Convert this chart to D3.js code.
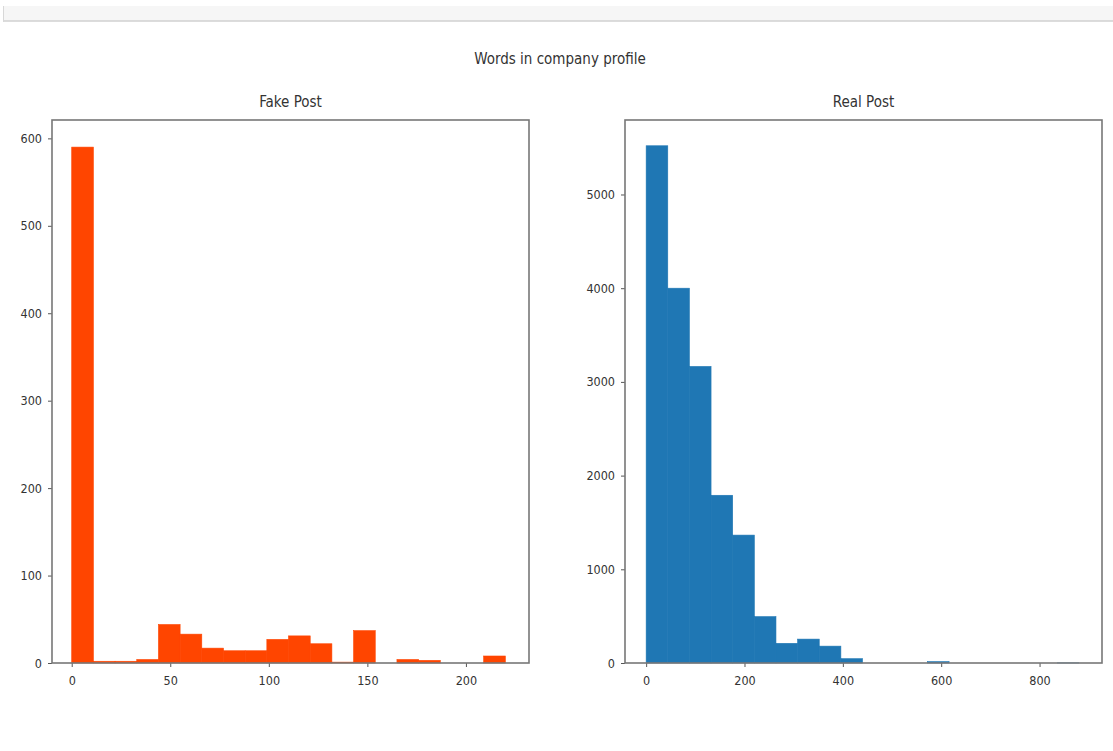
<!DOCTYPE html>
<html>
<head>
<meta charset="utf-8">
<script src="https://cdn.jsdelivr.net/npm/d3@7"></script>
<style>
  html, body { margin: 0; padding: 0; background: #fff; }
  svg { display: block; }
  text { font-family: "DejaVu Sans Condensed", "DejaVu Sans", sans-serif; fill: #333; }
</style>
</head>
<body>
<svg id="chart" width="1113" height="751"></svg>
<script>
// ---- data ----
const suptitle = "Words in company profile";
const fakeTitle = "Fake Post";
const realTitle = "Real Post";

const fakeBinStarts = [0, 11, 22, 33, 44, 55, 66, 77, 88, 99, 110, 121, 132, 143, 154, 165, 176, 187, 198, 209];
const fakeBinWidth = 11;
const fakeCounts = [590, 2, 2, 4, 44, 33, 17, 14, 14, 27, 31, 22, 1, 37, 0, 4, 3, 0, 0, 8];

const realBinStarts = [0, 44, 88, 132, 176, 220, 264, 308, 352, 396, 440, 484, 528, 572, 616, 660, 704, 748, 792, 836];
const realBinWidth = 44;
const realCounts = [5520, 4000, 3165, 1790, 1365, 495, 210, 255, 180, 46, 0, 0, 0, 15, 0, 0, 0, 0, 0, 1];

const fakeXTicks = [0, 50, 100, 150, 200];
const fakeYTicks = [0, 100, 200, 300, 400, 500, 600];
const realXTicks = [0, 200, 400, 600, 800];
const realYTicks = [0, 1000, 2000, 3000, 4000, 5000];

// ---- drawing ----
const svg = d3.select("#chart");

// notebook-like top strip
svg.append("rect").attr("x", 3).attr("y", 6).attr("width", 1110).attr("height", 15)
  .attr("fill", "#f6f6f6").attr("stroke", "none");
svg.append("line").attr("x1", 3).attr("x2", 1113).attr("y1", 21).attr("y2", 21)
  .attr("stroke", "#d0d0d0").attr("stroke-width", 1.5);
svg.append("line").attr("x1", 3.5).attr("x2", 3.5).attr("y1", 6).attr("y2", 22)
  .attr("stroke", "#d8d8d8").attr("stroke-width", 1);

svg.append("text").attr("x", 560).attr("y", 64).attr("text-anchor", "middle")
  .attr("font-size", 15).text(suptitle);

function panel(opts) {
  const { left, right, top, bottom, xDomain, yDomain, starts, width, counts, color, title, xTicks, yTicks } = opts;
  const x = d3.scaleLinear().domain(xDomain).range([left, right]);
  const y = d3.scaleLinear().domain(yDomain).range([bottom, top]);
  const g = svg.append("g");

  g.selectAll("rect.bar").data(counts.map((c, i) => ({ c, s: starts[i] })))
    .enter().append("rect").attr("class", "bar")
    .attr("x", d => x(d.s))
    .attr("width", d => x(d.s + width) - x(d.s))
    .attr("y", d => y(d.c))
    .attr("height", d => y(0) - y(d.c))
    .attr("fill", color)
    .attr("stroke", color).attr("stroke-width", 0.6);

  const xAxis = d3.axisBottom(x).tickValues(xTicks).tickSize(4).tickPadding(9).tickFormat(d3.format("d"));
  const yAxis = d3.axisLeft(y).tickValues(yTicks).tickSize(4).tickPadding(6).tickFormat(d3.format("d"));

  const gx = g.append("g").attr("transform", `translate(0,${bottom})`).call(xAxis);
  const gy = g.append("g").attr("transform", `translate(${left},0)`).call(yAxis);
  [gx, gy].forEach(a => {
    a.select(".domain").remove();
    a.selectAll(".tick line").attr("stroke", "#555").attr("stroke-width", 1);
    a.selectAll(".tick text").attr("font-size", 12.5)
      .attr("font-family", "DejaVu Sans Condensed, DejaVu Sans, sans-serif").attr("fill", "#333");
  });

  g.append("rect").attr("x", left).attr("y", top).attr("width", right - left).attr("height", bottom - top)
    .attr("fill", "none").attr("stroke", "#777").attr("stroke-width", 1.6);

  g.append("text").attr("x", (left + right) / 2).attr("y", top - 13).attr("text-anchor", "middle")
    .attr("font-size", 15).text(title);
}

panel({
  left: 52, right: 529, top: 120, bottom: 663,
  xDomain: [-10, 232], yDomain: [0, 621],
  starts: fakeBinStarts, width: fakeBinWidth, counts: fakeCounts,
  color: "#ff4500", title: fakeTitle, xTicks: fakeXTicks, yTicks: fakeYTicks
});

panel({
  left: 625, right: 1102, top: 120, bottom: 663,
  xDomain: [-43, 927], yDomain: [0, 5795],
  starts: realBinStarts, width: realBinWidth, counts: realCounts,
  color: "#1f77b4", title: realTitle, xTicks: realXTicks, yTicks: realYTicks
});
</script>
</body>
</html>
